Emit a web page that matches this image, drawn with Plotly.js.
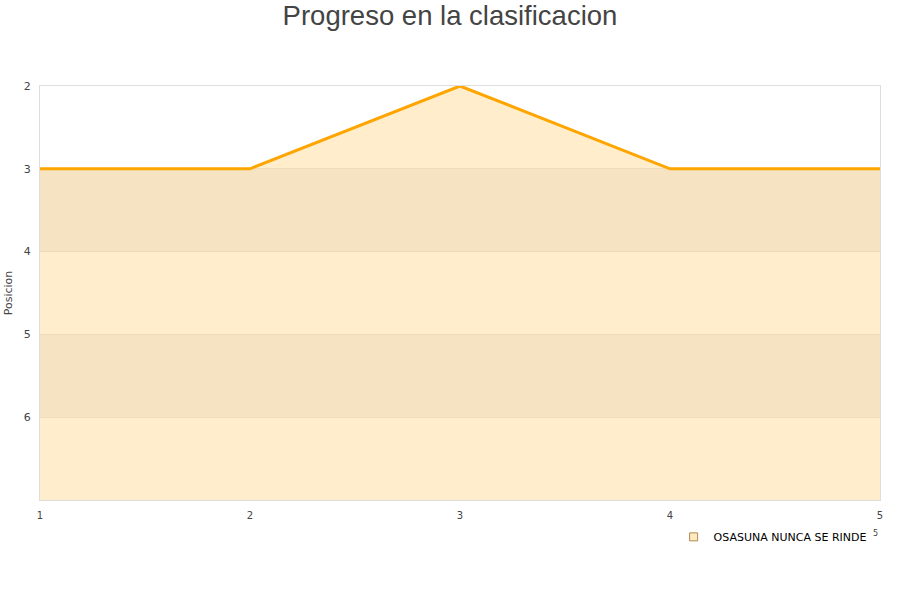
<!DOCTYPE html>
<html>
<head>
<meta charset="utf-8">
<script src="https://cdn.plot.ly/plotly-3.0.1.min.js"></script>
<style>
  body { margin: 0; background: #fff; }
  #chart { width: 900px; height: 600px; }
</style>
</head>
<body>
<div id="chart"></div>
<script>
// jornadas y posicion
var jornadas = [1, 2, 3, 4, 5];
var posicion = [3, 3, 2, 3, 3];
var equipo = 'OSASUNA NUNCA SE RINDE';
var yTicks = [2, 3, 4, 5, 6];
var fondo = 7;

var base = {
  x: jornadas,
  y: jornadas.map(function () { return fondo; }),
  mode: 'lines',
  line: { width: 0 },
  hoverinfo: 'skip',
  showlegend: false
};

var serie = {
  x: jornadas,
  y: posicion,
  mode: 'lines',
  name: equipo,
  fill: 'tonexty',
  fillcolor: 'rgba(255,165,0,0.2)',
  line: { color: '#FFA500', width: 3 },
  showlegend: false
};

// solo para la leyenda (cuadrado)
var leyenda = {
  x: [null],
  y: [null],
  mode: 'markers',
  name: equipo,
  marker: { symbol: 'square', size: 8, color: '#FFE9C2', line: { color: '#B08A50', width: 1 } },
  hoverinfo: 'skip'
};

// bandas alternas del fondo
var shapes = [];
for (var i = 3; i < fondo; i += 2) {
  shapes.push({
    type: 'rect', xref: 'paper', yref: 'y', layer: 'below',
    x0: 0, x1: 1, y0: i, y1: i + 1,
    fillcolor: '#F3F3F3', line: { width: 0 }
  });
}

var layout = {
  width: 900,
  height: 600,
  margin: { l: 40, r: 20, t: 86, b: 100 },
  paper_bgcolor: '#fff',
  plot_bgcolor: '#fff',
  font: { family: 'DejaVu Sans, sans-serif', size: 11, color: '#444' },
  title: {
    text: 'Progreso en la clasificacion',
    font: { family: 'Liberation Sans, Arial, sans-serif', size: 27.5, color: '#444' },
    x: 0.5, xanchor: 'center', y: 0.975, yanchor: 'middle'
  },
  xaxis: {
    range: [1, 5],
    tickvals: jornadas,
    showgrid: false,
    zeroline: false,
    showline: true, mirror: true, linecolor: '#ddd', linewidth: 1,
    ticks: '', ticklabelstandoff: 6, tickfont: { size: 10 }
  },
  yaxis: {
    range: [fondo, 2],
    tickvals: yTicks,
    showgrid: true, gridcolor: 'rgba(0,0,0,0.07)',
    zeroline: false,
    showline: true, mirror: true, linecolor: '#ddd', linewidth: 1,
    ticks: '', ticklabelstandoff: 6,
    title: { text: 'Posicion', font: { size: 11, color: '#444' }, standoff: 8 }
  },
  shapes: shapes,
  showlegend: true,
  legend: {
    orientation: 'h',
    x: 0.99, xanchor: 'right', xref: 'paper',
    y: -0.054, yanchor: 'top',
    font: { size: 11, color: '#000' },
    itemwidth: 30,
    bgcolor: 'rgba(0,0,0,0)'
  },
  annotations: [{
    text: '5', xref: 'paper', yref: 'paper', x: 0.995, y: -0.08,
    xanchor: 'center', yanchor: 'middle',
    showarrow: false, font: { size: 8, color: '#444' }
  }]
};

Plotly.newPlot(document.getElementById('chart'), [base, serie, leyenda], layout, { displayModeBar: false });
</script>
</body>
</html>
